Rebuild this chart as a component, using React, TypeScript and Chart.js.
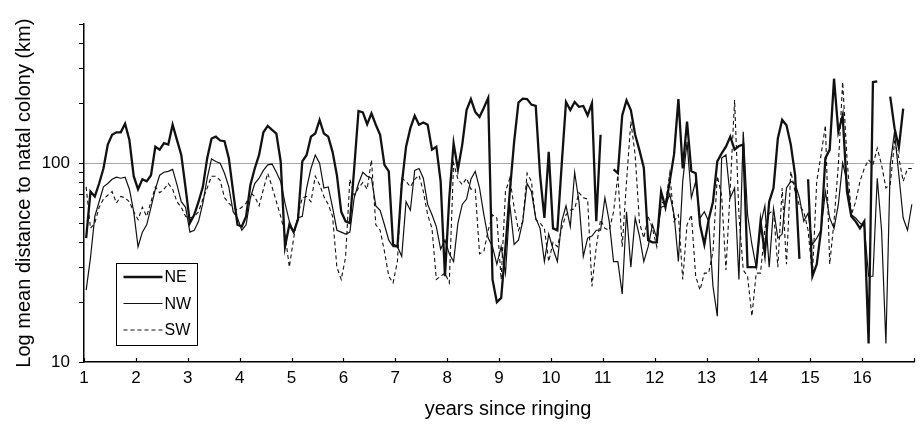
import React, { useEffect, useRef } from "react";
import { Chart, registerables } from "chart.js";

Chart.register(...registerables);

// Monthly means, first value = first month after ringing (year 1)
const START_YEAR = 1;
const MONTHS_PER_YEAR = 12;

const NE: (number | null)[] = [
  42, 72, 68, 79, 94, 124, 139, 143, 143, 158, 131, 86, 74, 83, 81, 87, 121, 117, 126, 124, 156, 131, 110, 75, 50, 55, 64, 76, 106, 133, 136, 130, 129,
  106, 72, 49, 48, 54, 78, 94, 110, 143, 154, 147, 141, 102, 38, 49, 45, 52, 102, 110, 136, 141, 165, 141, 136, 114, 87, 57, 51, 50, 94, 183,
  180, 157, 178, 156, 139, 98, 91, 39, 38, 78, 121, 150, 173, 156, 160, 156, 117, 121, 81, 27, 67, 126, 93, 124, 185, 210, 181, 171, 190, 213, 26, 20, 21,
  38, 72, 128, 202, 211, 210, 197, 194, 87, 53, 114, 47, 46, 98, 203, 185, 203, 192, 194, 174, 200, 51, 139, null, null, 93, 89, 174, 207, 185, 139, 116, 95,
  41, 40, 40, 72, 60, 81, 111, 210, 94, 162, 91, 89, 49, 39, 52, 64, 102, 112, 121, 136, 117, 122, 124, 30, 30, 30, 51, 35, 64, 75, 133, 165,
  155, 124, 87, 33, null, 83, 27, 31, 46, 106, 117, 266, 144, 174, 72, 54, 51, 47, 51, 12.4, 256, 258, null, null, 216, 150, 120, 188, null, null,
];

const NW: (number | null)[] = [
  23, 33.5, 54, 64, 76, 79, 83, 85, 84, 85, 74, 57, 38, 45, 49, 60, 74, 87, 90, 91, 93, 78, 64, 60, 45, 46, 51, 63, 84, 105, 102, 100, 89,
  76, 57, 53, 46, 49, 67, 79, 84, 92, 98, 99, 90, 81, 63, 51, 45, 53, 54, 75, 94, 110, 100, 75, 76, 60, 46, 45, 44, 45, 67, 79,
  90, 86, 84, 61, 58, 49, 41, 38, 38, 34, 64, 58, 92, 94, 84, 62, 55, 48, 37, 41, 35, 32, 50, 62, 66, 83, 91, 75, 55, 42, 38, 31, 38,
  28, 62, 39, 41, 51, 79, 72, 53, 47, 32, 44, 37, 32, 51, 61, 48, 90, 64, 34, 42, 43, 46, 46, 67, 51, 32, 32, 22, 57, 30, 53, 43, 32,
  38, 49, 42, 60, 61, 70, 55, 32, 81, 128, 67, 81, 53, 57, 51, 24, 17, 106, 110, 67, 75, 26, 144, 55, 39, 30, 49, 61, 30, 59, 42, 44,
  75, 81, 79, 67, 51, 56, 39, 42, 46, 72, 53, 47, 62, 100, 81, 55, 53, 50, 48, 27, 27, 84, 46, 12.4, 98, 144, 87, 53, 46, 62,
];

const SW: (number | null)[] = [
  76, 47, 50, 60, 66, 69, 72, 63, 68, 67, 64, 57, 52, 60, 54, 64, 76, 71, 74, 79, 74, 64, 60, 54, 53, 54, 57, 66, 75, 86, 86, 82, 67,
  63, 60, 58, 60, 63, 71, 68, 61, 74, 89, 76, 64, 54, 44, 30, 42, 55, 67, 68, 64, 86, 78, 68, 62, 54, 30, 26, 33.5, 83, 69, 75,
  80, 74, 104, 49, 46, 36, 27, 25, 32, 84, 81, 76, 83, 87, 72, 55, 47, 26, 27, 28, 25, 100, 83, 78, 84, 74, 74, 35, 36, 46, 55, 53, 26,
  72, 84, 60, 46, 51, 89, 81, 52, 50, 47, 32, 40, 38, 47, 55, 58, 59, 71, 67, 66, 24, 38, 52, 47, 46, 57, 87, 38, 81, 162, 110, 50, 42,
  54, 47, 38, 64, 62, 89, 51, 55, 26, 49, 55, 27, 23, 28, 28, 36, 86, 69, 29, 75, 208, 55, 29, 27, 17, 28, 28, 47, 56, 58, 30, 75,
  31, 91, 72, 61, 57, 46, 27, 81, 110, 155, 31, 51, 98, 256, 106, 55, 64, 81, 94, 104, 98, 119, 98, 75, 78, 128, 106, 81, 94, 94,
];

const X_TICKS = [1, 2, 3, 4, 5, 6, 7, 8, 9, 10, 11, 12, 13, 14, 15, 16, 17];
const X_LABELS = [1, 2, 3, 4, 5, 6, 7, 8, 9, 10, 11, 12, 13, 14, 15, 16];
const Y_TICKS = [10, 20, 30, 40, 50, 60, 70, 80, 90, 100, 200, 300, 400, 500];
const Y_LABELS = [10, 100];
const SERIES_NAMES = ["NE", "NW", "SW"];
const X_TITLE = "years since ringing";
const Y_TITLE = "Log mean distance to natal colony (km)";

const FONT = "'Liberation Sans', Arial, Helvetica, sans-serif";
const INK = "#111111";

function toPoints(values: (number | null)[]) {
  return values.map((v, i) => ({ x: START_YEAR + (i + 0.5) / MONTHS_PER_YEAR, y: v }));
}

const tickMarks = {
  id: "tickMarks",
  afterDraw(chart: any) {
    const { ctx, chartArea, scales } = chart;
    const x = scales.x;
    const y = scales.y;
    ctx.save();
    ctx.strokeStyle = "#000";
    ctx.lineWidth = 1.2;
    ctx.beginPath();
    for (const v of Y_TICKS) {
      const py = Math.round(y.getPixelForValue(v)) + 0.5;
      ctx.moveTo(chartArea.left - 5, py);
      ctx.lineTo(chartArea.left, py);
    }
    for (const v of X_TICKS) {
      const px = Math.round(x.getPixelForValue(v)) + 0.5;
      ctx.moveTo(px, chartArea.bottom);
      ctx.lineTo(px, chartArea.bottom - 4);
    }
    ctx.stroke();
    // x axis title
    ctx.fillStyle = "#000";
    ctx.font = `20px ${FONT}`;
    ctx.textAlign = "center";
    ctx.textBaseline = "middle";
    ctx.fillText(X_TITLE, (chartArea.left + chartArea.right) / 2 + 9, 409);
    ctx.restore();
  },
};

const boxLegend = {
  id: "boxLegend",
  afterDraw(chart: any) {
    const { ctx, chartArea } = chart;
    const left = chartArea.left + 32.5;
    const top = 263.5;
    const w = 81;
    const h = 82;
    ctx.save();
    ctx.fillStyle = "#fff";
    ctx.fillRect(left, top, w, h);
    ctx.strokeStyle = "#000";
    ctx.lineWidth = 1;
    ctx.strokeRect(left, top, w, h);
    chart.data.datasets.forEach((ds: any, i: number) => {
      const cy = top + 13.5 + i * 26.5;
      ctx.beginPath();
      ctx.strokeStyle = ds.borderColor;
      ctx.lineWidth = ds.borderWidth;
      ctx.setLineDash(ds.borderDash || []);
      ctx.moveTo(left + 7, cy);
      ctx.lineTo(left + 46, cy);
      ctx.stroke();
      ctx.setLineDash([]);
      ctx.fillStyle = "#000";
      ctx.font = `16px ${FONT}`;
      ctx.textBaseline = "middle";
      ctx.textAlign = "left";
      ctx.fillText(ds.label, left + 48, cy + 1);
    });
    ctx.restore();
  },
};

export default function App() {
  const ref = useRef<HTMLCanvasElement | null>(null);

  useEffect(() => {
    document.body.style.margin = "0";
    const canvas = ref.current;
    if (!canvas) return;
    Chart.defaults.font.family = FONT;
    const chart = new Chart(canvas, {
      type: "line",
      data: {
        datasets: [
          { label: SERIES_NAMES[0], data: toPoints(NE) as any, borderColor: INK, borderWidth: 2.3, spanGaps: false },
          { label: SERIES_NAMES[1], data: toPoints(NW) as any, borderColor: INK, borderWidth: 1.2, spanGaps: false },
          { label: SERIES_NAMES[2], data: toPoints(SW) as any, borderColor: INK, borderWidth: 1.1, borderDash: [4, 3], spanGaps: false },
        ],
      },
      options: {
        responsive: false,
        animation: false,
        devicePixelRatio: 1,
        layout: { padding: { top: 22, right: 4, left: 0, bottom: 0 } },
        elements: { point: { radius: 0 }, line: { tension: 0, borderJoinStyle: "miter" as any } },
        plugins: { legend: { display: false }, tooltip: { enabled: false } },
        scales: {
          x: {
            type: "linear",
            min: 1,
            max: 17,
            afterFit: (s: any) => {
              s.height = 63;
            },
            afterBuildTicks: (s: any) => {
              s.ticks = X_TICKS.map((v) => ({ value: v }));
            },
            ticks: {
              autoSkip: false,
              maxRotation: 0,
              padding: 6,
              color: "#000",
              font: { size: 17, family: FONT },
              callback: (v: any) => (X_LABELS.includes(Number(v)) ? String(v) : ""),
            },
            grid: { display: false, drawTicks: false },
            border: { display: true, color: "#000", width: 1.5 },
            title: { display: false },
          },
          y: {
            type: "logarithmic",
            min: 10,
            max: 500,
            afterFit: (s: any) => {
              s.width = 84;
            },
            afterBuildTicks: (s: any) => {
              s.ticks = Y_TICKS.map((v) => ({ value: v }));
            },
            ticks: {
              autoSkip: false,
              padding: 14,
              color: "#000",
              font: { size: 17, family: FONT },
              callback: (v: any) => (Y_LABELS.includes(Number(v)) ? String(v) : ""),
            },
            grid: {
              drawTicks: false,
              lineWidth: 1,
              color: (ctx: any) => (ctx.tick && ctx.tick.value === 100 ? "#a8a8a8" : "rgba(0,0,0,0)"),
            },
            border: { display: true, color: "#000", width: 1.5 },
            title: {
              display: true,
              text: Y_TITLE,
              color: "#000",
              font: { size: 20, family: FONT },
              padding: { top: 12, bottom: 0 },
            },
          },
        },
      },
      plugins: [tickMarks, boxLegend],
    });
    return () => chart.destroy();
  }, []);

  return (
    <div style={{ width: 920, height: 425 }}>
      <canvas ref={ref} width={920} height={425} style={{ width: 920, height: 425, display: "block" }} />
    </div>
  );
}
